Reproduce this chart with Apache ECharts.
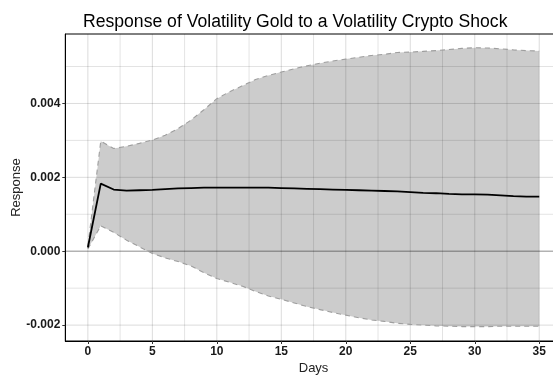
<!DOCTYPE html>
<html>
<head>
<meta charset="utf-8">
<script src="https://cdn.jsdelivr.net/npm/echarts@6/dist/echarts.min.js"></script>
<style>
  html, body { margin: 0; padding: 0; overflow: hidden; background: #fff; }
  #chart { width: 562px; height: 375px; }
</style>
</head>
<body>
<div id="chart"></div>
<script>
// Impulse response: horizon in days, point estimate and confidence band
const days = Array.from({ length: 36 }, (_, i) => i);
const response = [0.00010, 0.00183, 0.00167, 0.00164, 0.00165, 0.00166, 0.00168, 0.00170, 0.00171, 0.00172,
                  0.00172, 0.00172, 0.00172, 0.00172, 0.00172, 0.00171, 0.00170, 0.00169, 0.00168, 0.00167,
                  0.00166, 0.00165, 0.00164, 0.00163, 0.00162, 0.00160, 0.00158, 0.00157, 0.00155, 0.00154,
                  0.00154, 0.00153, 0.00151, 0.00149, 0.00148, 0.00148];
const upper = [0.00014, 0.00298, 0.00278, 0.00284, 0.00292, 0.00301, 0.00314, 0.00332, 0.00355, 0.00383,
               0.00413, 0.00432, 0.00448, 0.00465, 0.00476, 0.00485, 0.00494, 0.00502, 0.00509, 0.00515,
               0.00520, 0.00525, 0.00530, 0.00533, 0.00538, 0.00539, 0.00541, 0.00543, 0.00546, 0.00549,
               0.00551, 0.00550, 0.00548, 0.00545, 0.00543, 0.00542];
const lower = [0.00006, 0.00069, 0.00051, 0.00030, 0.00012, -0.00006, -0.00018, -0.00028, -0.00040, -0.00058,
               -0.00074, -0.00084, -0.00095, -0.00109, -0.00121, -0.00130, -0.00140, -0.00150, -0.00158, -0.00166,
               -0.00173, -0.00180, -0.00186, -0.00190, -0.00195, -0.00198, -0.00200, -0.00202, -0.00203, -0.00204,
               -0.00204, -0.00204, -0.00203, -0.00203, -0.00203, -0.00203];

// Axis breaks and grid positions
const xTicks = [0, 5, 10, 15, 20, 25, 30, 35];
const xMinor = [2.5, 7.5, 12.5, 17.5, 22.5, 27.5, 32.5];
const yTicks = [-0.002, 0, 0.002, 0.004];
const yMinor = [-0.001, 0.001, 0.003, 0.005];

const FONT = "'Liberation Sans', Arial, sans-serif";
const pairs = arr => days.map((d, i) => [d, arr[i]]);

// Confidence band as one polygon: upper edge left to right, lower edge back
function renderBand(params, api) {
  if (params.dataIndex !== 0) return null;
  const pts = [];
  for (let i = 0; i < days.length; i++) pts.push(api.coord([days[i], upper[i]]));
  for (let i = days.length - 1; i >= 0; i--) pts.push(api.coord([days[i], lower[i]]));
  return { type: 'polygon', shape: { points: pts }, style: { fill: '#cccccc' } };
}

// Grid rules laid over the band; each item is [axis (0 = x, 1 = y), value, kind]
const ruleStyles = {
  major: { stroke: 'rgba(0,0,0,0.14)', lineWidth: 1 },
  minor: { stroke: 'rgba(0,0,0,0.11)', lineWidth: 1 },
  zero:  { stroke: 'rgba(0,0,0,0.30)', lineWidth: 1.6 }
};
const rules = [
  ...xTicks.map(v => [0, v, 'major']),
  ...xMinor.map(v => [0, v, 'minor']),
  ...yTicks.filter(v => v !== 0).map(v => [1, v, 'major']),
  ...yMinor.map(v => [1, v, 'minor']),
  [1, 0, 'zero']
];
function renderRule(params, api) {
  const [axis, value, kind] = rules[params.dataIndex];
  const cs = params.coordSys;
  let shape;
  if (axis === 0) {
    const x = api.coord([value, 0])[0];
    shape = { x1: x, y1: cs.y, x2: x, y2: cs.y + cs.height };
  } else {
    const y = api.coord([0, value])[1];
    shape = { x1: cs.x, y1: y, x2: cs.x + cs.width, y2: y };
  }
  return { type: 'line', shape, style: Object.assign({}, ruleStyles[kind]) };
}

const chart = echarts.init(document.getElementById('chart'), null, { renderer: 'canvas' });
chart.setOption({
  animation: false,
  backgroundColor: '#fff',
  title: {
    text: 'Response of Volatility Gold to a Volatility Crypto Shock',
    left: 83, top: 13, padding: 0,
    textStyle: { fontFamily: FONT, fontSize: 17.6, fontWeight: 'normal', color: '#000' }
  },
  grid: {
    left: 65.3, right: 0.2, top: 34, bottom: 34,
    outerBoundsMode: 'none', containLabel: false,
    show: true, borderColor: '#000', borderWidth: 1, backgroundColor: 'transparent'
  },
  xAxis: {
    type: 'value', min: -1.75, max: 36.75,
    name: 'Days', nameLocation: 'middle', nameGap: 21, nameMoveOverlap: false,
    nameTextStyle: { fontFamily: FONT, fontSize: 13, color: '#222' },
    axisLine: { show: true, onZero: false, lineStyle: { color: '#000', width: 1 } },
    axisTick: { show: true, customValues: xTicks, length: 3, lineStyle: { color: '#333' } },
    axisLabel: { customValues: xTicks, margin: 5, fontFamily: FONT, fontSize: 12, fontWeight: 'bold', color: '#1a1a1a' },
    splitLine: { show: false }
  },
  yAxis: {
    type: 'value', min: -0.00243, max: 0.00588,
    name: 'Response', nameLocation: 'middle', nameGap: 42, nameRotate: 90, nameMoveOverlap: false,
    nameTextStyle: { fontFamily: FONT, fontSize: 13, color: '#222' },
    axisLine: { show: true, onZero: false, lineStyle: { color: '#000', width: 1 } },
    axisTick: { show: true, customValues: yTicks, length: 3, lineStyle: { color: '#333' } },
    axisLabel: {
      customValues: yTicks, margin: 5, fontFamily: FONT, fontSize: 12, fontWeight: 'bold', color: '#1a1a1a',
      formatter: v => v.toFixed(3)
    },
    splitLine: { show: false }
  },
  series: [
    { // filled confidence band
      type: 'custom', renderItem: renderBand, z: 2, silent: true, clip: true,
      data: days.map((d, i) => [d, lower[i], upper[i]]),
      encode: { x: 0, y: [1, 2] }
    },
    { // grid rules and zero line drawn over the band
      type: 'custom', renderItem: renderRule, z: 3, silent: true,
      data: rules.map((r, i) => [i])
    },
    { // upper bound
      type: 'line', data: pairs(upper), symbol: 'none', z: 5, silent: true,
      lineStyle: { color: '#9e9e9e', width: 1.1, type: [5, 4] }
    },
    { // lower bound
      type: 'line', data: pairs(lower), symbol: 'none', z: 5, silent: true,
      lineStyle: { color: '#9e9e9e', width: 1.1, type: [5, 4] }
    },
    { // point estimate
      type: 'line', data: pairs(response), symbol: 'none', z: 6, silent: true,
      lineStyle: { color: '#000', width: 1.8 }
    }
  ]
});
</script>
</body>
</html>
